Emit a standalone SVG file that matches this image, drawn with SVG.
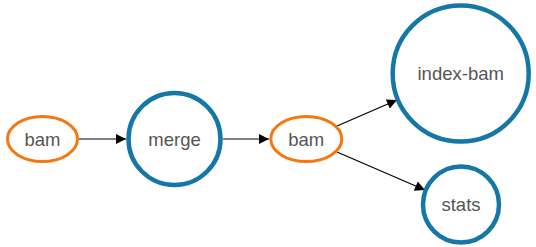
<svg xmlns="http://www.w3.org/2000/svg" width="536" height="247" viewBox="0 0 536 247">
  <style>
    .file { fill: #ffffff; stroke: #f5780f; stroke-width: 3; }
    .task { fill: #ffffff; stroke: #1577a6; stroke-width: 4.5; }
    .label { font-family: "Liberation Sans", Arial, sans-serif; font-size: 18.5px; fill: #555555; text-anchor: middle; dominant-baseline: central; }
    .edge { stroke: #000000; stroke-width: 1.2; fill: none; marker-end: url(#arrow); }
  </style>
  <defs>
    <marker id="arrow" viewBox="0 0 10 10" refX="10" refY="5" markerWidth="13" markerHeight="10" markerUnits="userSpaceOnUse" orient="auto">
      <path d="M0,0 L10,5 L0,10 Z" fill="#000000"/>
    </marker>
  </defs>
  <rect width="536" height="247" fill="#ffffff"/>
  <g id="edges">
    <line class="edge" x1="79" y1="139" x2="126" y2="139"/>
    <line class="edge" x1="223" y1="139" x2="269" y2="139"/>
    <line class="edge" x1="337" y1="126" x2="397" y2="100"/>
    <line class="edge" x1="337" y1="152" x2="425" y2="190"/>
  </g>
  <g id="bam-in">
    <ellipse class="file" cx="42.5" cy="139" rx="35" ry="22.5"/>
    <text class="label" x="42.5" y="139">bam</text>
  </g>
  <g id="merge">
    <circle class="task" cx="174.5" cy="139" r="46"/>
    <text class="label" x="174.5" y="139">merge</text>
  </g>
  <g id="bam-out">
    <ellipse class="file" cx="306.3" cy="139" rx="35.5" ry="22.5"/>
    <text class="label" x="306.3" y="139">bam</text>
  </g>
  <g id="index-bam">
    <circle class="task" cx="460.7" cy="73.5" r="68"/>
    <text class="label" x="460.7" y="73.5">index-bam</text>
  </g>
  <g id="stats">
    <circle class="task" cx="461" cy="204.5" r="38"/>
    <text class="label" x="461" y="204.5">stats</text>
  </g>
</svg>
